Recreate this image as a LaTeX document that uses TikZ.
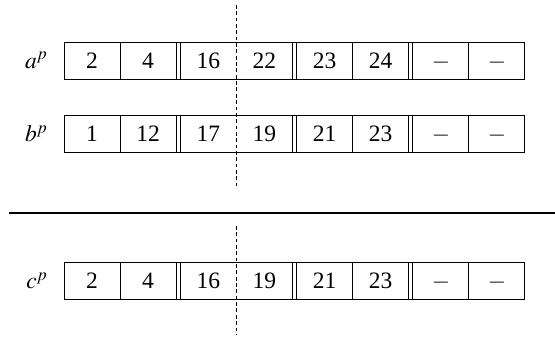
\documentclass[tikz,border=0pt]{standalone}
\usepackage{mathptmx}
\usepackage{fontspec}
\setmainfont{Liberation Serif}
\usetikzlibrary{positioning}
\tikzset{
  cell/.style={rectangle,inner sep=0pt,outer sep=0pt,minimum width=23.83pt,minimum height=15.74pt,text height=6.6pt,text depth=0pt},
  rowlabel/.style={inner sep=0pt,outer sep=0pt},
  frame/.style={line width=0.4pt},
  cutline/.style={dash pattern=on 1.6pt off 1.1pt,line width=0.4pt},
  rule/.style={line width=0.85pt}
}
% frame and separators of one row of slots #11 ... #18
\newcommand{\slotframe}[1]{%
  \draw[frame] (#11.north west) rectangle (#18.south east);
  \draw[frame] (#11.north east) -- (#11.south east);
  \draw[frame] (#12.north east) -- (#12.south east);
  \draw[frame] (#13.north west) -- (#13.south west);
  \draw[frame] (#14.north east) -- (#14.south east);
  \draw[frame] (#15.north west) -- (#15.south west);
  \draw[frame] (#15.north east) -- (#15.south east);
  \draw[frame] (#16.north east) -- (#16.south east);
  \draw[frame] (#17.north west) -- (#17.south west);
  \draw[frame] (#17.north east) -- (#17.south east);
}
\begin{document}
\begin{tikzpicture}[x=0.4255pt,y=0.4255pt]
  \useasboundingbox (0,0) rectangle (555,339);

  %% Row a
  \node[cell] (a1) at (92,278.5) {2};
  \node[cell,right=0pt of a1] (a2) {4};
  \node[cell,right=1.83pt of a2] (a3) {16};
  \node[cell,right=0pt of a3] (a4) {22};
  \node[cell,right=1.83pt of a4] (a5) {23};
  \node[cell,right=0pt of a5] (a6) {24};
  \node[cell,right=1.83pt of a6] (a7) {$-$};
  \node[cell,right=0pt of a7] (a8) {$-$};
  \node[rowlabel,base left=6.8pt of a1] (alab) {$a^p$};
  \slotframe{a}

  %% Row b
  \node[cell] (b1) at (92,205) {1};
  \node[cell,right=0pt of b1] (b2) {12};
  \node[cell,right=1.83pt of b2] (b3) {17};
  \node[cell,right=0pt of b3] (b4) {19};
  \node[cell,right=1.83pt of b4] (b5) {21};
  \node[cell,right=0pt of b5] (b6) {23};
  \node[cell,right=1.83pt of b6] (b7) {$-$};
  \node[cell,right=0pt of b7] (b8) {$-$};
  \node[rowlabel,base left=6.8pt of b1] (blab) {$b^p$};
  \slotframe{b}

  %% Result row c
  \node[cell] (c1) at (92,58) {2};
  \node[cell,right=0pt of c1] (c2) {4};
  \node[cell,right=1.83pt of c2] (c3) {16};
  \node[cell,right=0pt of c3] (c4) {19};
  \node[cell,right=1.83pt of c4] (c5) {21};
  \node[cell,right=0pt of c5] (c6) {23};
  \node[cell,right=1.83pt of c6] (c7) {$-$};
  \node[cell,right=0pt of c7] (c8) {$-$};
  \node[rowlabel,base left=6.8pt of c1] (clab) {$c^p$};
  \slotframe{c}

  %% Split lines
  \coordinate (cuttop) at (a3.east |- 0,334);
  \coordinate (cutbot) at (a3.east |- 0,151);
  \coordinate (cutctop) at (c3.east |- 0,113);
  \coordinate (cutcbot) at (c3.east |- 0,4);
  \draw[cutline] (cuttop) -- (cutbot);
  \draw[cutline] (cutctop) -- (cutcbot);

  %% Separator rule
  \coordinate (rulel) at (9,126);
  \coordinate (ruler) at (555,126);
  \draw[rule] (rulel) -- (ruler);
\end{tikzpicture}
\end{document}
